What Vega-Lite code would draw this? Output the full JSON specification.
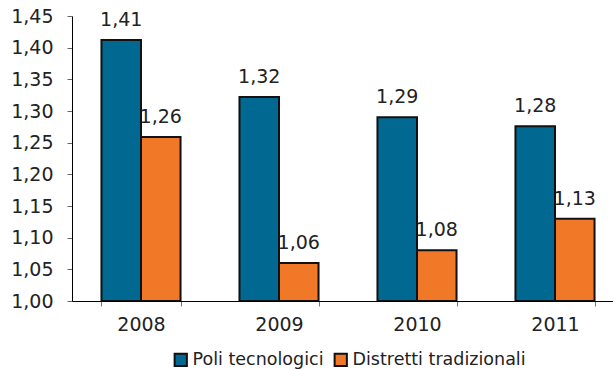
{
  "$schema": "https://vega.github.io/schema/vega-lite/v6.json",
  "autosize": "none",
  "width": 541,
  "height": 285,
  "padding": {"left": 72, "top": 16, "right": 0, "bottom": 68},
  "background": "white",
  "config": {
    "locale": {"number": {"decimal": ",", "thousands": ".", "grouping": [3], "currency": ["€", ""]}},
    "view": {"stroke": null},
    "font": "DejaVu Sans"
  },
  "data": {
    "values": [
      {"anno": "2008", "serie": "Poli tecnologici", "valore": 1.412},
      {"anno": "2008", "serie": "Distretti tradizionali", "valore": 1.259},
      {"anno": "2009", "serie": "Poli tecnologici", "valore": 1.322},
      {"anno": "2009", "serie": "Distretti tradizionali", "valore": 1.06},
      {"anno": "2010", "serie": "Poli tecnologici", "valore": 1.29},
      {"anno": "2010", "serie": "Distretti tradizionali", "valore": 1.08},
      {"anno": "2011", "serie": "Poli tecnologici", "valore": 1.276},
      {"anno": "2011", "serie": "Distretti tradizionali", "valore": 1.13}
    ]
  },
  "encoding": {
    "x": {
      "field": "anno", "type": "nominal",
      "scale": {"range": [0, 552], "paddingInner": 0.427, "paddingOuter": 0.2135},
      "axis": {
        "title": null, "labelAngle": 0, "labelFontSize": 19, "labelColor": "#222",
        "labelPadding": 9, "domainColor": "black", "domainWidth": 1.2,
        "tickBand": "extent", "tickColor": "#777", "tickSize": 5, "zindex": 1
      }
    },
    "xOffset": {"field": "serie", "type": "nominal", "sort": ["Poli tecnologici", "Distretti tradizionali"]},
    "y": {
      "field": "valore", "type": "quantitative",
      "scale": {"domain": [1.0, 1.45], "zero": false, "nice": false},
      "axis": {
        "title": null, "values": [1, 1.05, 1.1, 1.15, 1.2, 1.25, 1.3, 1.35, 1.4, 1.45],
        "format": ".2f", "grid": false, "labelFontSize": 19, "labelColor": "#222",
        "labelPadding": 14, "domainColor": "black", "tickColor": "#666", "tickSize": 5
      }
    }
  },
  "layer": [
    {
      "mark": {"type": "bar", "stroke": "#111", "strokeWidth": 2},
      "encoding": {
        "y2": {"datum": 1},
        "color": {
          "field": "serie", "type": "nominal",
          "scale": {"domain": ["Poli tecnologici", "Distretti tradizionali"], "range": ["#006891", "#f07826"]},
          "legend": {
            "title": null, "orient": "none", "legendX": 100, "legendY": 335, "direction": "horizontal",
            "symbolType": "square", "symbolSize": 150, "symbolStrokeColor": "#111", "symbolStrokeWidth": 2,
            "labelFontSize": 17.5, "labelColor": "#222", "labelLimit": 400, "columnPadding": 6, "labelOffset": 3
          }
        }
      }
    },
    {
      "mark": {"type": "text", "baseline": "bottom", "dy": -10, "fontSize": 19, "color": "#222"},
      "encoding": {
        "text": {"field": "valore", "type": "quantitative", "format": ".2f"}
      }
    }
  ]
}
